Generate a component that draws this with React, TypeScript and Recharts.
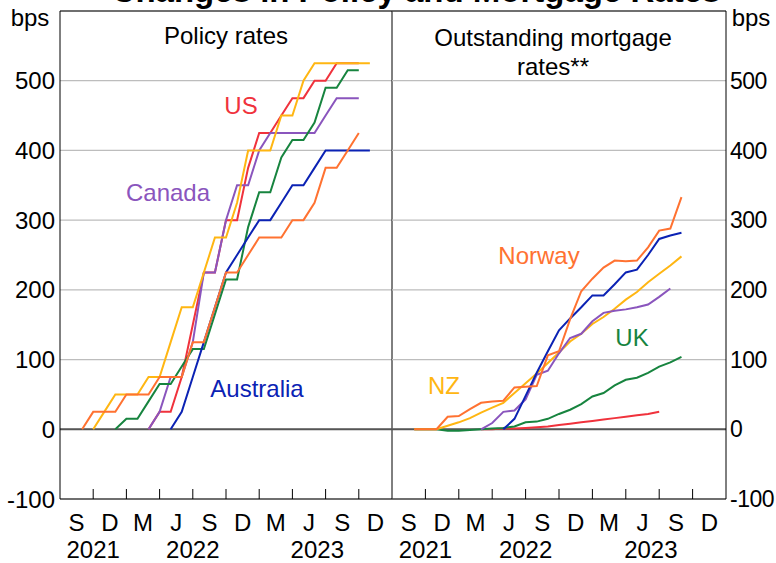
import React from 'react';
import { LineChart, Line, XAxis, YAxis, CartesianGrid, ReferenceLine } from 'recharts';

// x is months since end-June 2021 (month-end values), axis runs Jul 2021 - Dec 2023
const quarterLetters = ['S', 'D', 'M', 'J', 'S', 'D', 'M', 'J', 'S', 'D'];
const yearLabels = ['2021', '2022', '2023'];
const yearCentres = [3, 12, 23.25];
const yTicks = [-100, 0, 100, 200, 300, 400, 500];

// policy rates, change in bps
const usPolicyStart = 8;
const usPolicy = [0, 25, 25, 75, 150, 225, 225, 300, 300, 375, 425, 425, 450, 475, 475, 500, 500, 525, 525, 525];
const canadaPolicyStart = 8;
const canadaPolicy = [0, 25, 75, 75, 125, 225, 225, 300, 350, 350, 400, 425, 425, 425, 425, 425, 450, 475, 475, 475];
const ukPolicyStart = 5;
const ukPolicy = [0, 15, 15, 40, 65, 65, 90, 115, 115, 165, 215, 215, 290, 340, 340, 390, 415, 415, 440, 490, 490, 515, 515];
const ausPolicyStart = 10;
const ausPolicy = [0, 25, 75, 125, 175, 225, 250, 275, 300, 300, 325, 350, 350, 375, 400, 400, 400, 400, 400];
const nzPolicyStart = 3;
const nzPolicy = [0, 25, 50, 50, 50, 75, 75, 125, 175, 175, 225, 275, 275, 325, 400, 400, 400, 450, 450, 500, 525, 525, 525, 525, 525, 525];
const norwayPolicyStart = 2;
const norwayPolicy = [0, 25, 25, 25, 50, 50, 50, 75, 75, 75, 125, 125, 175, 225, 225, 250, 275, 275, 275, 300, 300, 325, 375, 375, 400, 425];

// outstanding mortgage rates, change in bps
const usMortStart = 8;
const usMort = [0, 0, 1, 1, 2, 3, 4, 6, 8, 10, 12, 14, 16, 18, 20, 22, 25];
const canadaMortStart = 8;
const canadaMort = [0, 9, 25, 27, 43, 78, 84, 109, 131, 137, 155, 167, 170, 172, 175, 179, 190, 202];
const ukMortStart = 2;
const ukMort = [0, 0, 0, -2, -2, -1, 0, 1, 2, 4, 10, 11, 15, 22, 28, 36, 47, 52, 63, 71, 74, 81, 90, 96, 104];
const ausMortStart = 10;
const ausMort = [0, 15, 48, 81, 112, 142, 159, 175, 192, 192, 208, 225, 229, 250, 273, 278, 282];
const nzMortStart = 2;
const nzMort = [0, 0, 0, 5, 10, 16, 24, 31, 38, 52, 66, 80, 95, 110, 126, 137, 151, 161, 173, 186, 197, 211, 223, 235, 248];
const norwayMortStart = 2;
const norwayMort = [0, 0, 0, 18, 19, 29, 38, 40, 41, 60, 61, 62, 106, 112, 158, 198, 216, 232, 242, 241, 242, 261, 285, 288, 333];

const COLORS = {
  us: '#f0323c',
  canada: '#8a55bd',
  uk: '#17843f',
  aus: '#0b22b4',
  nz: '#ffb612',
  norway: '#ff7231',
};

const FONT = '"Liberation Sans", Arial, sans-serif';

const toPoints = (start: number, values: number[]) => values.map((v, i) => ({ m: start + i, v }));

const policySeries = [
  { key: 'us', data: toPoints(usPolicyStart, usPolicy) },
  { key: 'canada', data: toPoints(canadaPolicyStart, canadaPolicy) },
  { key: 'uk', data: toPoints(ukPolicyStart, ukPolicy) },
  { key: 'aus', data: toPoints(ausPolicyStart, ausPolicy) },
  { key: 'nz', data: toPoints(nzPolicyStart, nzPolicy) },
  { key: 'norway', data: toPoints(norwayPolicyStart, norwayPolicy) },
];

const mortgageSeries = [
  { key: 'us', data: toPoints(usMortStart, usMort) },
  { key: 'uk', data: toPoints(ukMortStart, ukMort) },
  { key: 'nz', data: toPoints(nzMortStart, nzMort) },
  { key: 'canada', data: toPoints(canadaMortStart, canadaMort) },
  { key: 'aus', data: toPoints(ausMortStart, ausMort) },
  { key: 'norway', data: toPoints(norwayMortStart, norwayMort) },
];

const boundaries = [...quarterLetters.map((_, i) => i * 3), quarterLetters.length * 3];
const mids = quarterLetters.map((_, i) => i * 3 + 1.5);
const xTicks = Array.from(new Set([...boundaries, ...mids, ...yearCentres])).sort((a, b) => a - b);
const xMax = quarterLetters.length * 3;

const MonthTick = ({ x, y, payload }: any) => {
  const v = payload.value as number;
  const out: React.ReactNode[] = [];
  if (v % 3 === 0 && v > 0 && v < xMax) {
    out.push(<line key="t" x1={x} x2={x} y1={y} y2={y - 10} stroke="#000" strokeWidth={1} />);
  }
  if (v % 3 === 1.5) {
    out.push(
      <text key="q" x={x} y={y + 32} textAnchor="middle" fontSize={24} fontFamily={FONT} fill="#000">
        {quarterLetters[(v - 1.5) / 3]}
      </text>
    );
  }
  const yi = yearCentres.indexOf(v);
  if (yi >= 0) {
    out.push(
      <text key="y" x={x} y={y + 59} textAnchor="middle" fontSize={24} fontFamily={FONT} fill="#000">
        {yearLabels[yi]}
      </text>
    );
  }
  return <g>{out}</g>;
};

const yTickLeft = { fontSize: 24, fill: '#000', fontFamily: FONT };
const yTickRight = { fontSize: 23, fill: '#000', fontFamily: FONT, letterSpacing: -0.5 };

function Panel({ series, side }: { series: { key: string; data: { m: number; v: number }[] }[]; side: 'left' | 'right' }) {
  const isLeft = side === 'left';
  return (
    <LineChart
      width={isLeft ? 400 : 384}
      height={563}
      margin={{ top: 11, right: isLeft ? 8 : 0, bottom: 0, left: 0 }}
    >
      <CartesianGrid vertical={false} stroke="#bdbdbd" strokeWidth={1.2} />
      <XAxis
        type="number"
        dataKey="m"
        domain={[0, xMax]}
        ticks={xTicks}
        interval={0}
        height={64}
        tickSize={0}
        tickMargin={0}
        tickLine={false}
        tick={<MonthTick />}
        axisLine={{ stroke: '#000', strokeWidth: 1 }}
        allowDuplicatedCategory={false}
      />
      <YAxis
        orientation={side}
        domain={[-100, 600]}
        ticks={yTicks}
        interval={0}
        width={isLeft ? 60 : 50}
        tickSize={0}
        tickMargin={isLeft ? 5 : 4}
        tickLine={false}
        tick={isLeft ? yTickLeft : yTickRight}
        axisLine={{ stroke: '#000', strokeWidth: 1 }}
      />
      <ReferenceLine y={600} stroke="#000" strokeWidth={1} />
      {isLeft && <ReferenceLine x={xMax} stroke="#000" strokeWidth={1} />}
      <ReferenceLine y={0} stroke="#555" strokeWidth={2} />
      {series.map((s) => (
        <Line
          key={s.key}
          data={s.data}
          dataKey="v"
          type="linear"
          stroke={COLORS[s.key as keyof typeof COLORS]}
          strokeWidth={2}
          dot={false}
          activeDot={false}
          isAnimationActive={false}
        />
      ))}
    </LineChart>
  );
}

const labelProps = { fontSize: 24, fontFamily: FONT, textAnchor: 'middle' as const };

export default function App() {
  return (
    <div style={{ position: 'absolute', left: 0, top: 0, width: 776, height: 563, background: '#fff', overflow: 'hidden' }}>
      <div style={{ position: 'absolute', left: 0, top: 0 }}>
        <Panel series={policySeries} side="left" />
      </div>
      <div style={{ position: 'absolute', left: 392, top: 0 }}>
        <Panel series={mortgageSeries} side="right" />
      </div>
      <svg width={776} height={563} style={{ position: 'absolute', left: 0, top: 0, pointerEvents: 'none' }}>
        <text x={416} y={2} textAnchor="middle" fontSize={33} fontWeight="bold" fontFamily={FONT} fill="#000">
          Changes in Policy and Mortgage Rates
        </text>
        <text x={30} y={26} {...labelProps} fill="#000">bps</text>
        <text x={751} y={26} {...labelProps} fill="#000">bps</text>
        <text x={226} y={44} {...labelProps} fill="#000">Policy rates</text>
        <text x={553} y={46} {...labelProps} fill="#000">Outstanding mortgage</text>
        <text x={553} y={75} {...labelProps} fill="#000">rates**</text>
        <text x={241} y={114} {...labelProps} fill={COLORS.us}>US</text>
        <text x={168} y={201} {...labelProps} fill={COLORS.canada}>Canada</text>
        <text x={257} y={397} {...labelProps} fill={COLORS.aus}>Australia</text>
        <text x={539} y={264} {...labelProps} fill={COLORS.norway}>Norway</text>
        <text x={632} y={346} {...labelProps} fill={COLORS.uk}>UK</text>
        <text x={444} y={394} {...labelProps} fill={COLORS.nz}>NZ</text>
      </svg>
    </div>
  );
}
